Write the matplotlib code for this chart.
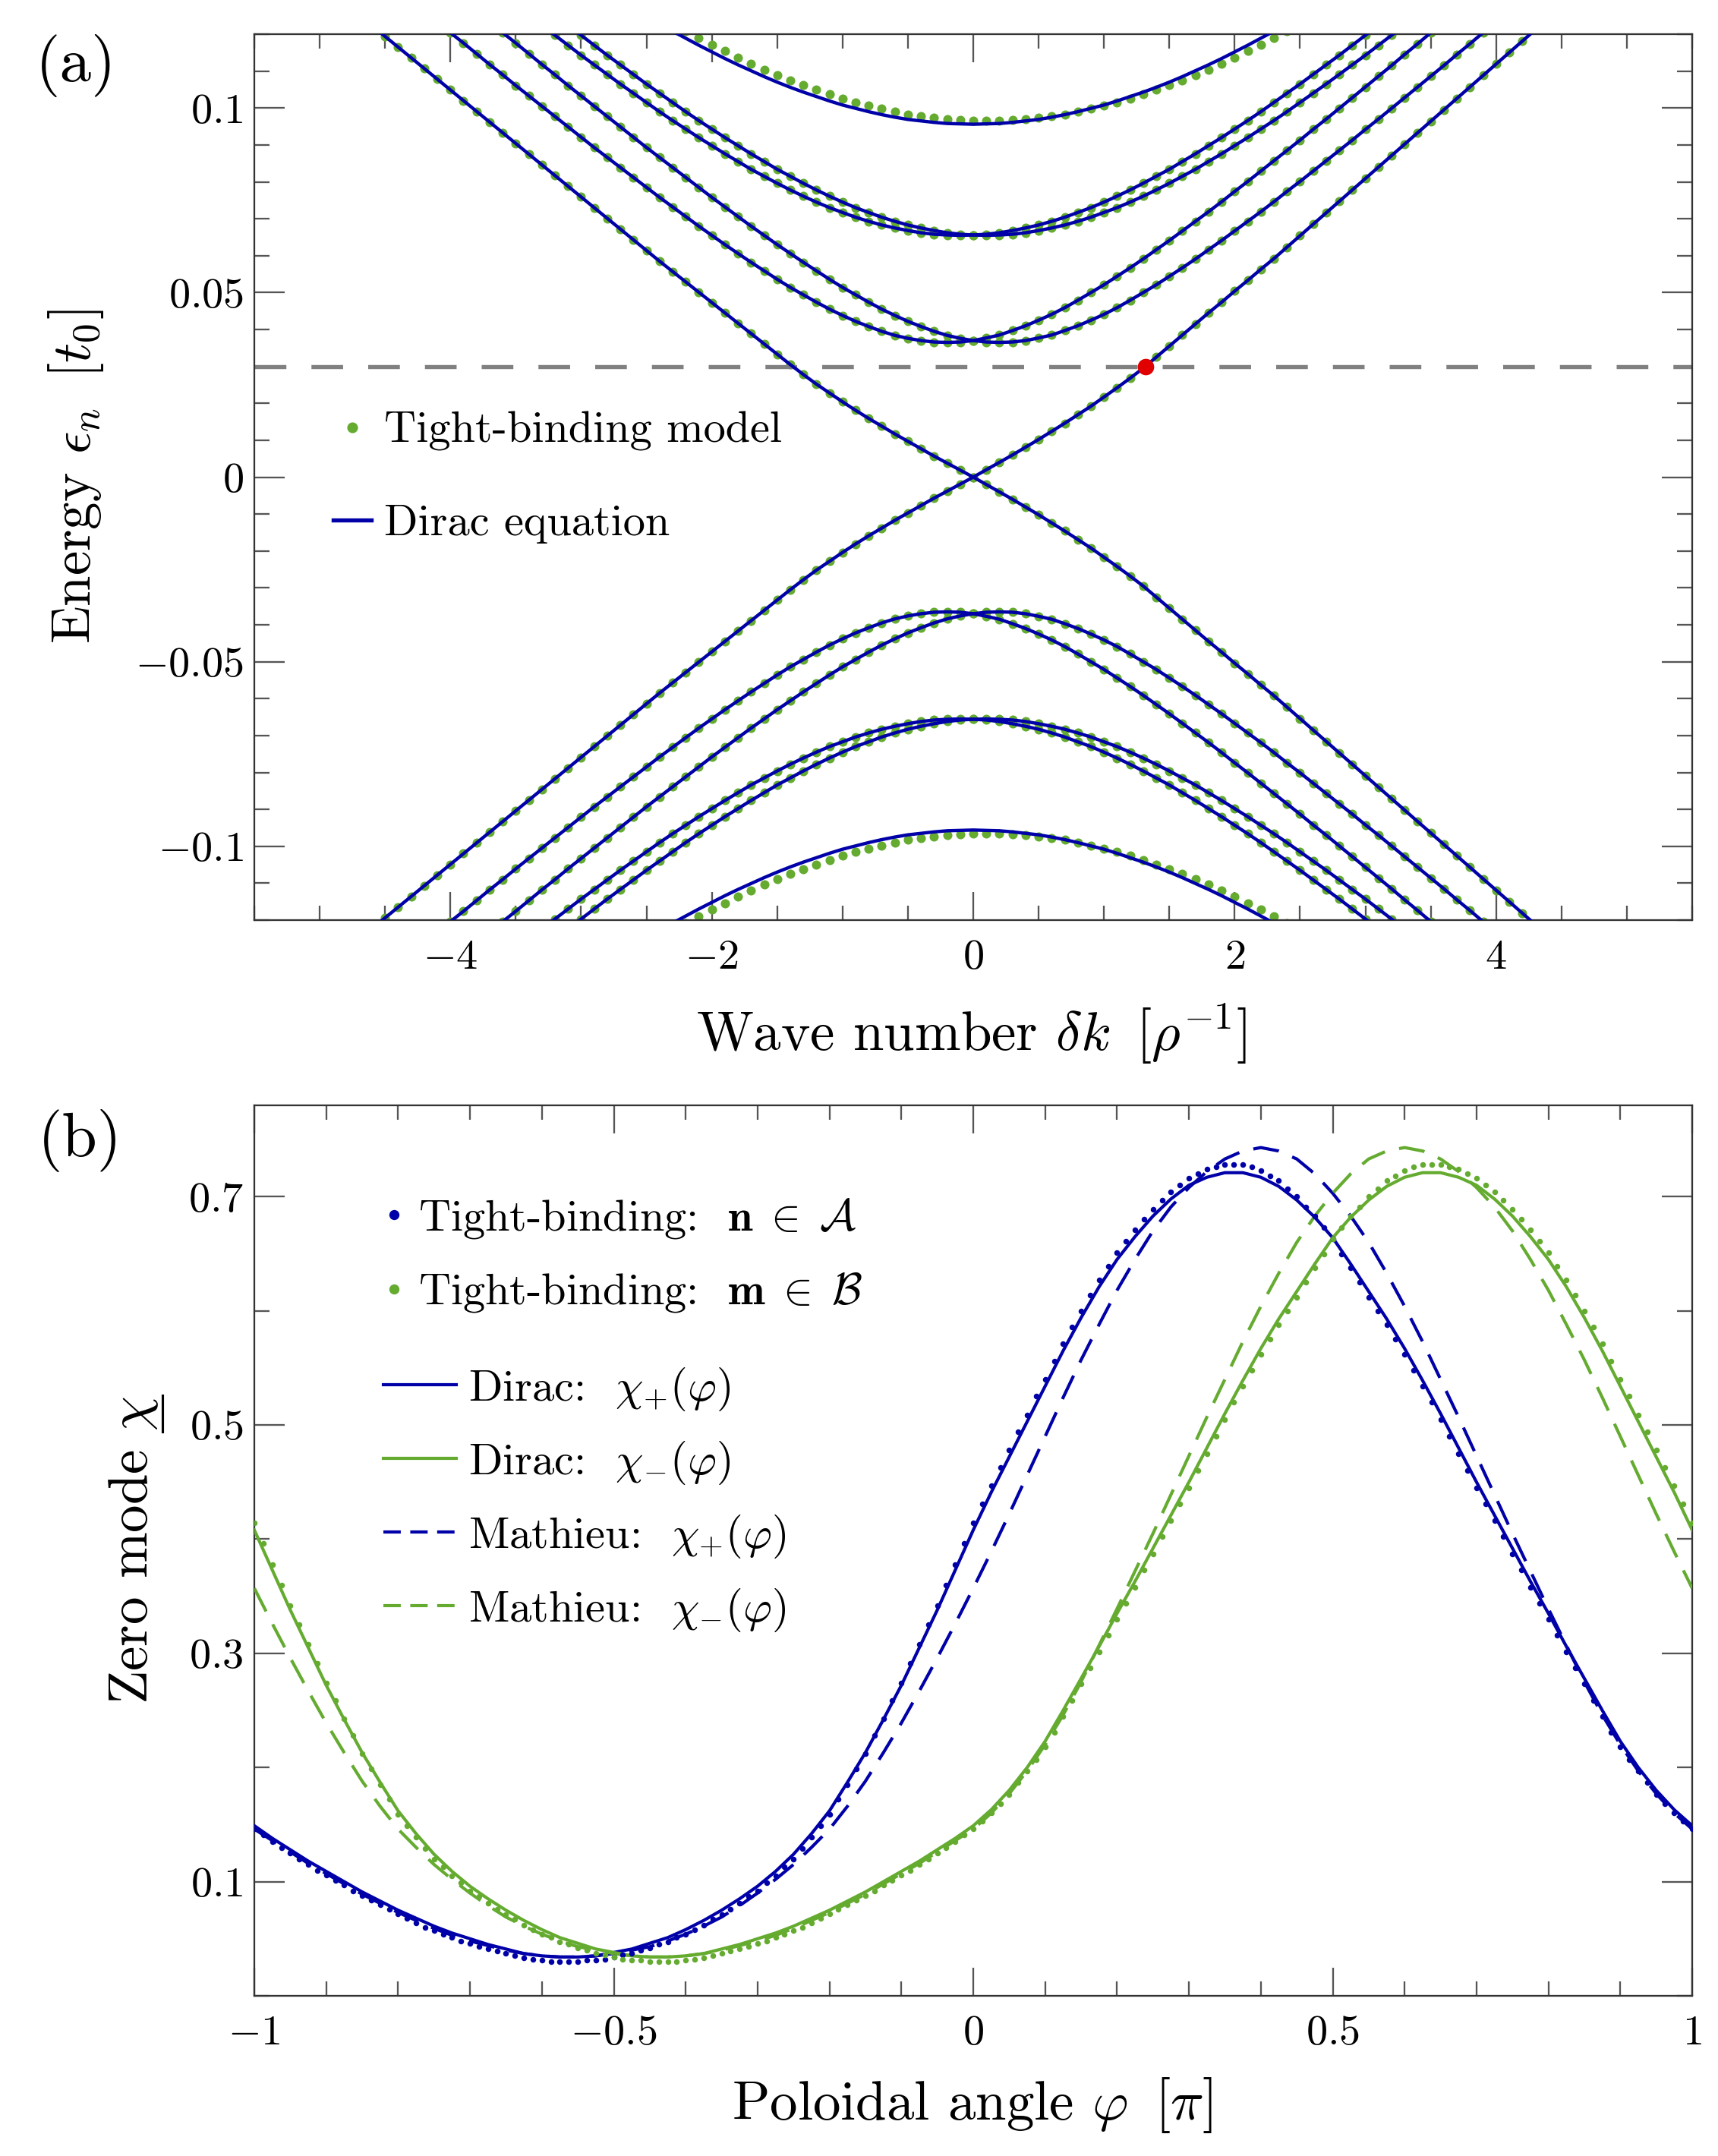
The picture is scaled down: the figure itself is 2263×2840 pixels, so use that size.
import numpy as np
import matplotlib
matplotlib.use("Agg")
import matplotlib.pyplot as plt
from matplotlib.lines import Line2D
from matplotlib.ticker import MultipleLocator, FixedLocator, FuncFormatter

plt.rcParams["mathtext.fontset"] = "cm"
plt.rcParams["font.family"] = ["cmr10", "DejaVu Serif"]
plt.rcParams["axes.formatter.use_mathtext"] = True

BLUE = "#0000A8"
GREEN = "#64AB30"
RED = "#E00000"
GRAY = "#808080"

# ---------------- panel (a): band structure (energies in units of 1e-3 t0) ----------------
K_GRID = [-4.6, -4.5, -4.4, -4.3, -4.2, -4.1, -4.0, -3.9, -3.8, -3.7, -3.6, -3.5, -3.4, -3.3,
          -3.2, -3.1, -3.0, -2.9, -2.8, -2.7, -2.6, -2.5, -2.4, -2.3, -2.2, -2.1, -2.0, -1.9,
          -1.8, -1.7, -1.6, -1.5, -1.4, -1.3, -1.2, -1.1, -1.0, -0.9, -0.8, -0.7, -0.6, -0.5,
          -0.4, -0.3, -0.2, -0.1, 0.0, 0.1, 0.2, 0.3, 0.4, 0.5, 0.6, 0.7, 0.8, 0.9, 1.0, 1.1,
          1.2, 1.3, 1.4, 1.5, 1.6, 1.7, 1.8, 1.9, 2.0, 2.1, 2.2, 2.3, 2.4, 2.5, 2.6, 2.7, 2.8,
          2.9, 3.0, 3.1, 3.2, 3.3, 3.4, 3.5, 3.6, 3.7, 3.8, 3.9, 4.0, 4.1, 4.2, 4.3, 4.4]

E_ZERO = [122.3, 119.4, 116.5, 113.6, 110.7, 107.8, 104.9, 102.0, 99.1, 96.2, 93.3, 90.4,
          87.5, 84.6, 81.7, 78.8, 75.9, 73.0, 70.1, 67.2, 64.3, 61.4, 58.5, 55.7, 52.9, 50.1,
          47.3, 44.5, 41.7, 38.9, 36.1, 33.3, 30.5, 27.8, 25.2, 22.8, 20.4, 18.1, 15.9, 13.8,
          11.7, 9.7, 7.7, 5.7, 3.8, 1.9, 0.0, 2.0, 4.0, 6.0, 8.1, 10.2, 12.4, 14.6, 16.9, 19.2,
          21.7, 24.2, 26.8, 29.5, 32.5, 35.5, 38.5, 41.5, 44.5, 47.4, 50.4, 53.3, 56.3, 59.2,
          62.3, 65.4, 68.5, 71.6, 74.7, 77.8, 80.9, 84.0, 87.1, 90.2, 93.3, 96.4, 99.5, 102.6,
          105.7, 108.8, 111.9, 115.0, 118.1, 121.2, 124.3]
K0_ZERO = -4.6

E_B1 = [123.3, 120.4, 117.6, 114.7, 111.8, 109.0, 106.1, 103.3, 100.5, 97.7, 94.9, 92.1, 89.3,
        86.6, 83.9, 81.2, 78.5, 75.8, 73.2, 70.6, 68.0, 65.5, 63.0, 60.6, 58.2, 55.9, 53.6,
        51.4, 49.4, 47.4, 45.5, 43.8, 42.2, 40.8, 39.5, 38.4, 37.6, 37.0, 36.6, 36.5, 36.6,
        37.0, 37.7, 38.5, 39.7, 41.0, 42.5, 44.1, 45.9, 47.9, 50.0, 52.1, 54.4, 56.7, 59.1,
        61.6, 64.1, 66.7, 69.3, 71.9, 74.6, 77.4, 80.1, 82.9, 85.7, 88.5, 91.3, 94.2, 97.0,
        99.9, 102.8, 105.7, 108.6, 111.5, 114.5, 117.4, 120.4, 123.3]
K0_B1 = -4.1
E_B2 = [123.3, 120.4, 117.6, 114.7, 111.8, 109.0, 106.1, 103.3, 100.5, 97.7, 94.9, 92.1, 89.3,
        86.6, 83.9, 81.2, 78.5, 75.8, 73.2, 70.6, 68.0, 65.5, 63.0, 60.6, 58.2, 55.9, 53.6,
        51.4, 49.4, 47.4, 45.5, 43.8, 42.2, 40.8, 39.5, 38.4, 37.6, 37.0, 36.6, 36.5, 36.6,
        37.0, 37.7, 38.5, 39.7, 41.0, 42.5, 44.1, 45.9, 47.9, 50.0, 52.1, 54.4, 56.7, 59.1,
        61.6, 64.1, 66.7, 69.3, 71.9, 74.6, 77.4, 80.1, 82.9, 85.7, 88.5, 91.3, 94.2, 97.0,
        99.9, 102.8, 105.7, 108.6, 111.5, 114.5, 117.4, 120.4, 123.3]
K0_B2 = -3.7

E_B3 = [122.4, 119.7, 117.0, 114.3, 111.7, 109.1, 106.5, 104.0, 101.5, 99.0, 96.6, 94.3, 92.0,
        89.8, 87.6, 85.5, 83.4, 81.5, 79.6, 77.8, 76.1, 74.5, 73.0, 71.7, 70.4, 69.3, 68.3,
        67.5, 66.8, 66.2, 65.8, 65.6, 65.5, 65.6, 65.8, 66.2, 66.8, 67.5, 68.3, 69.3, 70.4,
        71.7, 73.0, 74.5, 76.1, 77.8, 79.6, 81.5, 83.4, 85.5, 87.6, 89.8, 92.0, 94.3, 96.6,
        99.0, 101.5, 104.0, 106.5, 109.1, 111.7, 114.3, 117.0, 119.7, 122.4]
K0_B3 = -3.3
E_B4 = [122.4, 119.7, 117.0, 114.3, 111.7, 109.1, 106.5, 104.0, 101.5, 99.0, 96.6, 94.3, 92.0,
        89.8, 87.6, 85.5, 83.4, 81.5, 79.6, 77.8, 76.1, 74.5, 73.0, 71.7, 70.4, 69.3, 68.3,
        67.5, 66.8, 66.2, 65.8, 65.6, 65.5, 65.6, 65.8, 66.2, 66.8, 67.5, 68.3, 69.3, 70.4,
        71.7, 73.0, 74.5, 76.1, 77.8, 79.6, 81.5, 83.4, 85.5, 87.6, 89.8, 92.0, 94.3, 96.6,
        99.0, 101.5, 104.0, 106.5, 109.1, 111.7, 114.3, 117.0, 119.7, 122.4]
K0_B4 = -3.1

E_B5 = [122.8, 120.8, 118.9, 117.0, 115.2, 113.4, 111.7, 110.1, 108.5, 107.0, 105.6, 104.3,
        103.1, 101.9, 100.8, 99.9, 99.0, 98.2, 97.5, 96.9, 96.5, 96.1, 95.8, 95.7, 95.6, 95.7,
        95.8, 96.1, 96.5, 96.9, 97.5, 98.2, 99.0, 99.9, 100.8, 101.9, 103.1, 104.3, 105.6,
        107.0, 108.5, 110.1, 111.7, 113.4, 115.2, 117.0, 118.9, 120.8, 122.8]
K0_B5 = -2.4
E_B5_TB = [122.7, 120.8, 118.9, 117.1, 115.4, 113.7, 112.0, 110.4, 108.9, 107.5, 106.2, 104.9,
           103.7, 102.6, 101.5, 100.6, 99.8, 99.0, 98.3, 97.8, 97.3, 97.0, 96.7, 96.6, 96.5,
           96.6, 96.7, 97.0, 97.3, 97.8, 98.3, 99.0, 99.8, 100.6, 101.5, 102.6, 103.7, 104.9,
           106.2, 107.5, 108.9, 110.4, 112.0, 113.7, 115.4, 117.1, 118.9, 120.8, 122.7]
K0_B5_TB = -2.3

E_FERMI = 0.03
K_MARKED = 1.32

# ---------------- panel (b): zero modes ----------------
PHI = [-1.0, -0.975, -0.95, -0.925, -0.9, -0.875, -0.85, -0.825, -0.8, -0.775, -0.75,
       -0.725, -0.7, -0.675, -0.65, -0.625, -0.6, -0.575, -0.55, -0.525, -0.5, -0.475,
       -0.45, -0.425, -0.4, -0.375, -0.35, -0.325, -0.3, -0.275, -0.25, -0.225, -0.2,
       -0.175, -0.15, -0.125, -0.1, -0.075, -0.05, -0.025, 0.0, 0.025, 0.05, 0.075, 0.1,
       0.125, 0.15, 0.175, 0.2, 0.225, 0.25, 0.275, 0.3, 0.325, 0.35, 0.375, 0.4, 0.425,
       0.45, 0.475, 0.5, 0.525, 0.55, 0.575, 0.6, 0.625, 0.65, 0.675, 0.7, 0.725, 0.75,
       0.775, 0.8, 0.825, 0.85, 0.875, 0.9, 0.925, 0.95, 0.975, 1.0]
CHI_P_DIRAC = [0.149, 0.138, 0.128, 0.118, 0.109, 0.100, 0.091, 0.083, 0.075, 0.068, 0.061,
               0.055, 0.050, 0.045, 0.041, 0.037, 0.035, 0.034, 0.034, 0.035, 0.038, 0.041,
               0.046, 0.051, 0.058, 0.066, 0.075, 0.085, 0.096, 0.109, 0.124, 0.142, 0.162,
               0.187, 0.213, 0.242, 0.272, 0.305, 0.338, 0.373, 0.408, 0.441, 0.472, 0.503,
               0.534, 0.565, 0.594, 0.621, 0.645, 0.665, 0.683, 0.698, 0.710, 0.717, 0.721,
               0.721, 0.717, 0.709, 0.697, 0.682, 0.664, 0.641, 0.617, 0.593, 0.567, 0.539,
               0.510, 0.480, 0.450, 0.421, 0.392, 0.363, 0.335, 0.306, 0.278, 0.250, 0.223,
               0.200, 0.180, 0.163, 0.149]
CHI_M_DIRAC = [0.408, 0.373, 0.338, 0.305, 0.272, 0.242, 0.213, 0.187, 0.162, 0.142, 0.124,
               0.109, 0.096, 0.085, 0.075, 0.066, 0.058, 0.051, 0.046, 0.041, 0.038, 0.035,
               0.034, 0.034, 0.035, 0.037, 0.041, 0.045, 0.050, 0.055, 0.061, 0.068, 0.075,
               0.083, 0.091, 0.100, 0.109, 0.118, 0.128, 0.138, 0.149, 0.163, 0.180, 0.200,
               0.223, 0.250, 0.278, 0.306, 0.335, 0.363, 0.392, 0.421, 0.450, 0.480, 0.510,
               0.539, 0.567, 0.593, 0.617, 0.641, 0.664, 0.682, 0.697, 0.709, 0.717, 0.721,
               0.721, 0.717, 0.710, 0.698, 0.683, 0.665, 0.645, 0.621, 0.594, 0.565, 0.534,
               0.503, 0.472, 0.441, 0.408]
CHI_P_MATHIEU = [0.146, 0.136, 0.126, 0.116, 0.107, 0.098, 0.089, 0.081, 0.073, 0.066, 0.059,
                 0.053, 0.048, 0.044, 0.040, 0.037, 0.035, 0.034, 0.034, 0.035, 0.037, 0.040,
                 0.043, 0.048, 0.054, 0.061, 0.069, 0.079, 0.090, 0.102, 0.115, 0.130, 0.146,
                 0.166, 0.188, 0.213, 0.239, 0.267, 0.296, 0.326, 0.357, 0.389, 0.422, 0.456,
                 0.490, 0.524, 0.557, 0.588, 0.618, 0.645, 0.670, 0.691, 0.708, 0.722, 0.733,
                 0.740, 0.743, 0.740, 0.733, 0.720, 0.703, 0.683, 0.660, 0.633, 0.604, 0.573,
                 0.540, 0.507, 0.473, 0.439, 0.405, 0.372, 0.339, 0.307, 0.275, 0.246, 0.220,
                 0.197, 0.177, 0.160, 0.146]
CHI_M_MATHIEU = [0.357, 0.326, 0.296, 0.267, 0.239, 0.213, 0.188, 0.166, 0.146, 0.130, 0.115,
                 0.102, 0.090, 0.079, 0.069, 0.061, 0.054, 0.048, 0.043, 0.040, 0.037, 0.035,
                 0.034, 0.034, 0.035, 0.037, 0.040, 0.044, 0.048, 0.053, 0.059, 0.066, 0.073,
                 0.081, 0.089, 0.098, 0.107, 0.116, 0.126, 0.136, 0.146, 0.160, 0.177, 0.197,
                 0.220, 0.246, 0.275, 0.307, 0.339, 0.372, 0.405, 0.439, 0.473, 0.507, 0.540,
                 0.573, 0.604, 0.633, 0.660, 0.683, 0.703, 0.720, 0.733, 0.740, 0.743, 0.740,
                 0.733, 0.722, 0.708, 0.691, 0.670, 0.645, 0.618, 0.588, 0.557, 0.524, 0.490,
                 0.456, 0.422, 0.389, 0.357]

PHI_TB = [-1.0, -0.9875, -0.975, -0.9625, -0.95, -0.9375, -0.925, -0.9125, -0.9, -0.8875,
          -0.875, -0.8625, -0.85, -0.8375, -0.825, -0.8125, -0.8, -0.7875, -0.775, -0.7625,
          -0.75, -0.7375, -0.725, -0.7125, -0.7, -0.6875, -0.675, -0.6625, -0.65, -0.6375,
          -0.625, -0.6125, -0.6, -0.5875, -0.575, -0.5625, -0.55, -0.5375, -0.525, -0.5125,
          -0.5, -0.4875, -0.475, -0.4625, -0.45, -0.4375, -0.425, -0.4125, -0.4, -0.3875,
          -0.375, -0.3625, -0.35, -0.3375, -0.325, -0.3125, -0.3, -0.2875, -0.275, -0.2625,
          -0.25, -0.2375, -0.225, -0.2125, -0.2, -0.1875, -0.175, -0.1625, -0.15, -0.1375,
          -0.125, -0.1125, -0.1, -0.0875, -0.075, -0.0625, -0.05, -0.0375, -0.025, -0.0125,
          0.0, 0.0125, 0.025, 0.0375, 0.05, 0.0625, 0.075, 0.0875, 0.1, 0.1125,
          0.125, 0.1375, 0.15, 0.1625, 0.175, 0.1875, 0.2, 0.2125, 0.225, 0.2375,
          0.25, 0.2625, 0.275, 0.2875, 0.3, 0.3125, 0.325, 0.3375, 0.35, 0.3625,
          0.375, 0.3875, 0.4, 0.4125, 0.425, 0.4375, 0.45, 0.4625, 0.475, 0.4875,
          0.5, 0.5125, 0.525, 0.5375, 0.55, 0.5625, 0.575, 0.5875, 0.6, 0.6125,
          0.625, 0.6375, 0.65, 0.6625, 0.675, 0.6875, 0.7, 0.7125, 0.725, 0.7375,
          0.75, 0.7625, 0.775, 0.7875, 0.8, 0.8125, 0.825, 0.8375, 0.85, 0.8625,
          0.875, 0.8875, 0.9, 0.9125, 0.925, 0.9375, 0.95, 0.9625, 0.975, 0.9875, 1.0]
CHI_A_TB = [0.146, 0.141, 0.135, 0.130, 0.125, 0.120, 0.115, 0.110, 0.106, 0.101,
            0.097, 0.092, 0.088, 0.084, 0.080, 0.076, 0.072, 0.068, 0.064, 0.060,
            0.057, 0.054, 0.051, 0.048, 0.046, 0.043, 0.041, 0.039, 0.037, 0.035,
            0.033, 0.032, 0.031, 0.030, 0.030, 0.030, 0.030, 0.031, 0.031, 0.032,
            0.034, 0.036, 0.037, 0.040, 0.042, 0.045, 0.047, 0.051, 0.054, 0.058,
            0.062, 0.067, 0.071, 0.076, 0.081, 0.087, 0.092, 0.099, 0.105, 0.113,
            0.120, 0.129, 0.139, 0.149, 0.159, 0.172, 0.185, 0.199, 0.212, 0.228,
            0.243, 0.259, 0.274, 0.291, 0.308, 0.325, 0.342, 0.360, 0.378, 0.396,
            0.414, 0.431, 0.447, 0.463, 0.478, 0.494, 0.509, 0.525, 0.540, 0.556,
            0.571, 0.586, 0.600, 0.614, 0.627, 0.639, 0.651, 0.661, 0.671, 0.680,
            0.689, 0.697, 0.704, 0.710, 0.716, 0.720, 0.724, 0.726, 0.728, 0.728,
            0.728, 0.726, 0.723, 0.718, 0.714, 0.707, 0.700, 0.691, 0.683, 0.673,
            0.663, 0.650, 0.638, 0.625, 0.612, 0.600, 0.588, 0.575, 0.562, 0.548,
            0.534, 0.520, 0.505, 0.490, 0.475, 0.460, 0.445, 0.431, 0.416, 0.402,
            0.387, 0.373, 0.358, 0.344, 0.330, 0.316, 0.301, 0.287, 0.273, 0.259,
            0.245, 0.231, 0.218, 0.207, 0.197, 0.187, 0.176, 0.168, 0.160, 0.153, 0.146]
CHI_B_TB = [0.414, 0.396, 0.378, 0.360, 0.342, 0.325, 0.308, 0.291, 0.274, 0.259,
            0.243, 0.228, 0.212, 0.199, 0.185, 0.172, 0.159, 0.149, 0.139, 0.129,
            0.120, 0.113, 0.105, 0.099, 0.092, 0.087, 0.081, 0.076, 0.071, 0.067,
            0.062, 0.058, 0.054, 0.051, 0.047, 0.045, 0.042, 0.040, 0.037, 0.036,
            0.034, 0.032, 0.031, 0.031, 0.030, 0.030, 0.030, 0.030, 0.031, 0.032,
            0.033, 0.035, 0.037, 0.039, 0.041, 0.043, 0.046, 0.048, 0.051, 0.054,
            0.057, 0.060, 0.064, 0.068, 0.072, 0.076, 0.080, 0.084, 0.088, 0.092,
            0.097, 0.101, 0.106, 0.110, 0.115, 0.120, 0.125, 0.130, 0.135, 0.141,
            0.146,
            0.153, 0.160, 0.168, 0.176, 0.187, 0.197, 0.207, 0.218, 0.231, 0.245,
            0.259, 0.273, 0.287, 0.301, 0.316, 0.330, 0.344, 0.358, 0.373, 0.387,
            0.402, 0.416, 0.431, 0.445, 0.460, 0.475, 0.490, 0.505, 0.520, 0.534,
            0.548, 0.562, 0.575, 0.588, 0.600, 0.612, 0.625, 0.638, 0.650, 0.663,
            0.673, 0.683, 0.691, 0.700, 0.707, 0.714, 0.718, 0.723, 0.726, 0.728,
            0.728, 0.728, 0.726, 0.724, 0.720, 0.716, 0.710, 0.704, 0.697, 0.689,
            0.680, 0.671, 0.661, 0.651, 0.639, 0.627, 0.614, 0.600, 0.586, 0.571,
            0.556, 0.540, 0.525, 0.509, 0.494, 0.478, 0.463, 0.447, 0.431, 0.414]


def band_xy(k0, e_milli):
    i = K_GRID.index(k0)
    kk = np.array(K_GRID[i:i + len(e_milli)])
    ee = np.array(e_milli[:len(kk)]) * 1e-3
    return kk, ee


def xy(x, y):
    n = min(len(x), len(y))
    return np.array(x[:n]), np.array(y[:n])


def tick_fmt(v, pos):
    if abs(v) < 1e-9:
        return r"$0$"
    s = ("%.3f" % v).rstrip("0").rstrip(".")
    return r"$%s$" % s


def style_axes(ax, xmaj_len=8.9, ymaj_len=9.5):
    ax.tick_params(which="both", direction="in", top=True, right=True,
                   color="#555555", width=0.55, labelsize=13.5)
    ax.tick_params(axis="x", which="major", length=xmaj_len, pad=6.0)
    ax.tick_params(axis="x", which="minor", length=xmaj_len / 2)
    ax.tick_params(axis="y", which="major", length=ymaj_len, pad=3.4)
    ax.tick_params(axis="y", which="minor", length=ymaj_len / 2)
    ax.xaxis.set_major_formatter(FuncFormatter(tick_fmt))
    ax.yaxis.set_major_formatter(FuncFormatter(tick_fmt))
    for sp in ax.spines.values():
        sp.set_linewidth(0.55)
        sp.set_color("#333333")


W, H = 2263, 2840
fig = plt.figure(figsize=(W / 300, H / 300), dpi=300)
ax1 = fig.add_axes([335 / W, 1 - 1212 / H, (2229 - 335) / W, (1212 - 45) / H])
ax2 = fig.add_axes([335 / W, 1 - 2629 / H, (2229 - 335) / W, (2629 - 1456) / H])

# ---------- panel (a) ----------
dirac_bands = [(K0_ZERO, E_ZERO), (K0_B1, E_B1), (K0_B2, E_B2),
               (K0_B3, E_B3), (K0_B4, E_B4), (K0_B5, E_B5)]
tb_bands = [(K0_ZERO, E_ZERO), (K0_B1, E_B1), (K0_B2, E_B2),
            (K0_B3, E_B3), (K0_B4, E_B4), (K0_B5_TB, E_B5_TB)]
for k0, e in tb_bands:
    kk, ee = band_xy(k0, e)
    for sgn in (1, -1):
        ax1.plot(kk, sgn * ee, ls="none", marker="o", ms=2.9, mec="none",
                 color=GREEN, zorder=2)
for k0, e in dirac_bands:
    kk, ee = band_xy(k0, e)
    for sgn in (1, -1):
        ax1.plot(kk, sgn * ee, color=BLUE, lw=1.05, zorder=3)
fl = ax1.axhline(E_FERMI, color=GRAY, lw=1.3, zorder=2.5)
fl.set_dashes((7.7, 6.1))
ax1.plot([K_MARKED], [E_FERMI], "o", color=RED, ms=5.2, mec="none", zorder=5)

ax1.set_xlim(-5.5, 5.5)
ax1.set_ylim(-0.12, 0.12)
ax1.xaxis.set_major_locator(MultipleLocator(2))
ax1.xaxis.set_minor_locator(MultipleLocator(0.5))
ax1.yaxis.set_major_locator(MultipleLocator(0.05))
ax1.yaxis.set_minor_locator(MultipleLocator(0.01))
style_axes(ax1)

h_tb = Line2D([], [], ls="none", marker="o", ms=3.4, mec="none", color=GREEN)
h_di = Line2D([], [], color=BLUE, lw=1.3)
ax1.legend([h_tb, h_di], ["Tight-binding model", "Dirac equation"], loc="upper left",
           bbox_to_anchor=(0.055, 0.574), frameon=False, fontsize=14, handlelength=0.85,
           handletextpad=0.3, labelspacing=1.2, borderpad=0, borderaxespad=0)

# ---------- panel (b) ----------
ax2.plot(*xy(PHI, CHI_P_DIRAC), color=BLUE, lw=1.0, zorder=3)
ax2.plot(*xy(PHI, CHI_M_DIRAC), color=GREEN, lw=1.0, zorder=3)
lm1, = ax2.plot(*xy(PHI, CHI_P_MATHIEU), color=BLUE, lw=1.0, zorder=3)
lm2, = ax2.plot(*xy(PHI, CHI_M_MATHIEU), color=GREEN, lw=1.0, zorder=3)
lm1.set_dashes((8.2, 4.6))
lm2.set_dashes((8.2, 4.6))
ax2.plot(*xy(PHI_TB, CHI_A_TB), ls="none", marker="o", ms=1.8, mec="none", color=BLUE,
         zorder=4)
ax2.plot(*xy(PHI_TB, CHI_B_TB), ls="none", marker="o", ms=1.8, mec="none", color=GREEN,
         zorder=4)

ax2.set_xlim(-1, 1)
ax2.set_ylim(0, 0.78)
ax2.xaxis.set_major_locator(MultipleLocator(0.5))
ax2.xaxis.set_minor_locator(MultipleLocator(0.1))
ax2.yaxis.set_major_locator(FixedLocator([0.1, 0.3, 0.5, 0.7]))
ax2.yaxis.set_minor_locator(FixedLocator([0.0, 0.2, 0.4, 0.6]))
style_axes(ax2)

h_a = Line2D([], [], ls="none", marker="o", ms=3.2, mec="none", color=BLUE)
h_b = Line2D([], [], ls="none", marker="o", ms=3.2, mec="none", color=GREEN)
leg1 = ax2.legend([h_a, h_b],
                  [r"Tight-binding:  $\mathbf{n}\;\in\;\mathcal{A}$",
                   r"Tight-binding:  $\mathbf{m}\;\in\;\mathcal{B}$"],
                  loc="upper left", bbox_to_anchor=(0.088, 0.898), frameon=False,
                  fontsize=14, handlelength=0.6, handletextpad=0.25, labelspacing=0.7,
                  borderpad=0, borderaxespad=0)
ax2.add_artist(leg1)
h1 = Line2D([], [], color=BLUE, lw=1.0)
h2 = Line2D([], [], color=GREEN, lw=1.0)
h3 = Line2D([], [], color=BLUE, lw=1.0, dashes=(5.5, 3.0))
h4 = Line2D([], [], color=GREEN, lw=1.0, dashes=(5.5, 3.0))
ax2.legend([h1, h2, h3, h4],
           [r"Dirac:  $\chi_{+}(\varphi)$", r"Dirac:  $\chi_{-}(\varphi)$",
            r"Mathieu:  $\chi_{+}(\varphi)$", r"Mathieu:  $\chi_{-}(\varphi)$"],
           loc="upper left", bbox_to_anchor=(0.090, 0.708), frameon=False, fontsize=14,
           handlelength=1.63, handletextpad=0.29, labelspacing=0.6, borderpad=0,
           borderaxespad=0)

# ---------- labels ----------
fig.text(100 / W, 1 - 87 / H, "(a)", fontsize=20, ha="center", va="center")
fig.text(105 / W, 1 - 1503 / H, "(b)", fontsize=20, ha="center", va="center")
fig.text(100 / W, 1 - 628 / H, r"Energy $\epsilon_n\;\;[t_0]$", fontsize=17.5,
         rotation=90, ha="center", va="center")
fig.text(1280 / W, 1 - 1362 / H, r"Wave number $\delta k\;\;[\rho^{-1}]$", fontsize=17.5,
         ha="center", va="center")
fig.text(1280 / W, 1 - 2773 / H, r"Poloidal angle $\varphi\;\;[\pi]$", fontsize=17.5,
         ha="center", va="center")
ylab2 = fig.text(176 / W, 1 - 2042 / H, r"Zero mode $\chi$", fontsize=17.5,
                 rotation=90, ha="center", va="center")

# underline below the chi of the rotated label
fig.canvas.draw()
rend = fig.canvas.get_renderer()
bb = ylab2.get_window_extent(rend)
tmp = fig.text(0, 0, r"$\chi$", fontsize=17.5)
chi_w = tmp.get_window_extent(rend).width
tmp.remove()
x_ul = (bb.x1 + 3) / fig.bbox.width
y0_ul = (bb.y1 - chi_w - 1) / fig.bbox.height
y1_ul = (bb.y1 + 1) / fig.bbox.height
fig.add_artist(Line2D([x_ul, x_ul], [y0_ul, y1_ul], transform=fig.transFigure,
                      color="black", lw=0.75))

fig.savefig("out.png", dpi=300)
